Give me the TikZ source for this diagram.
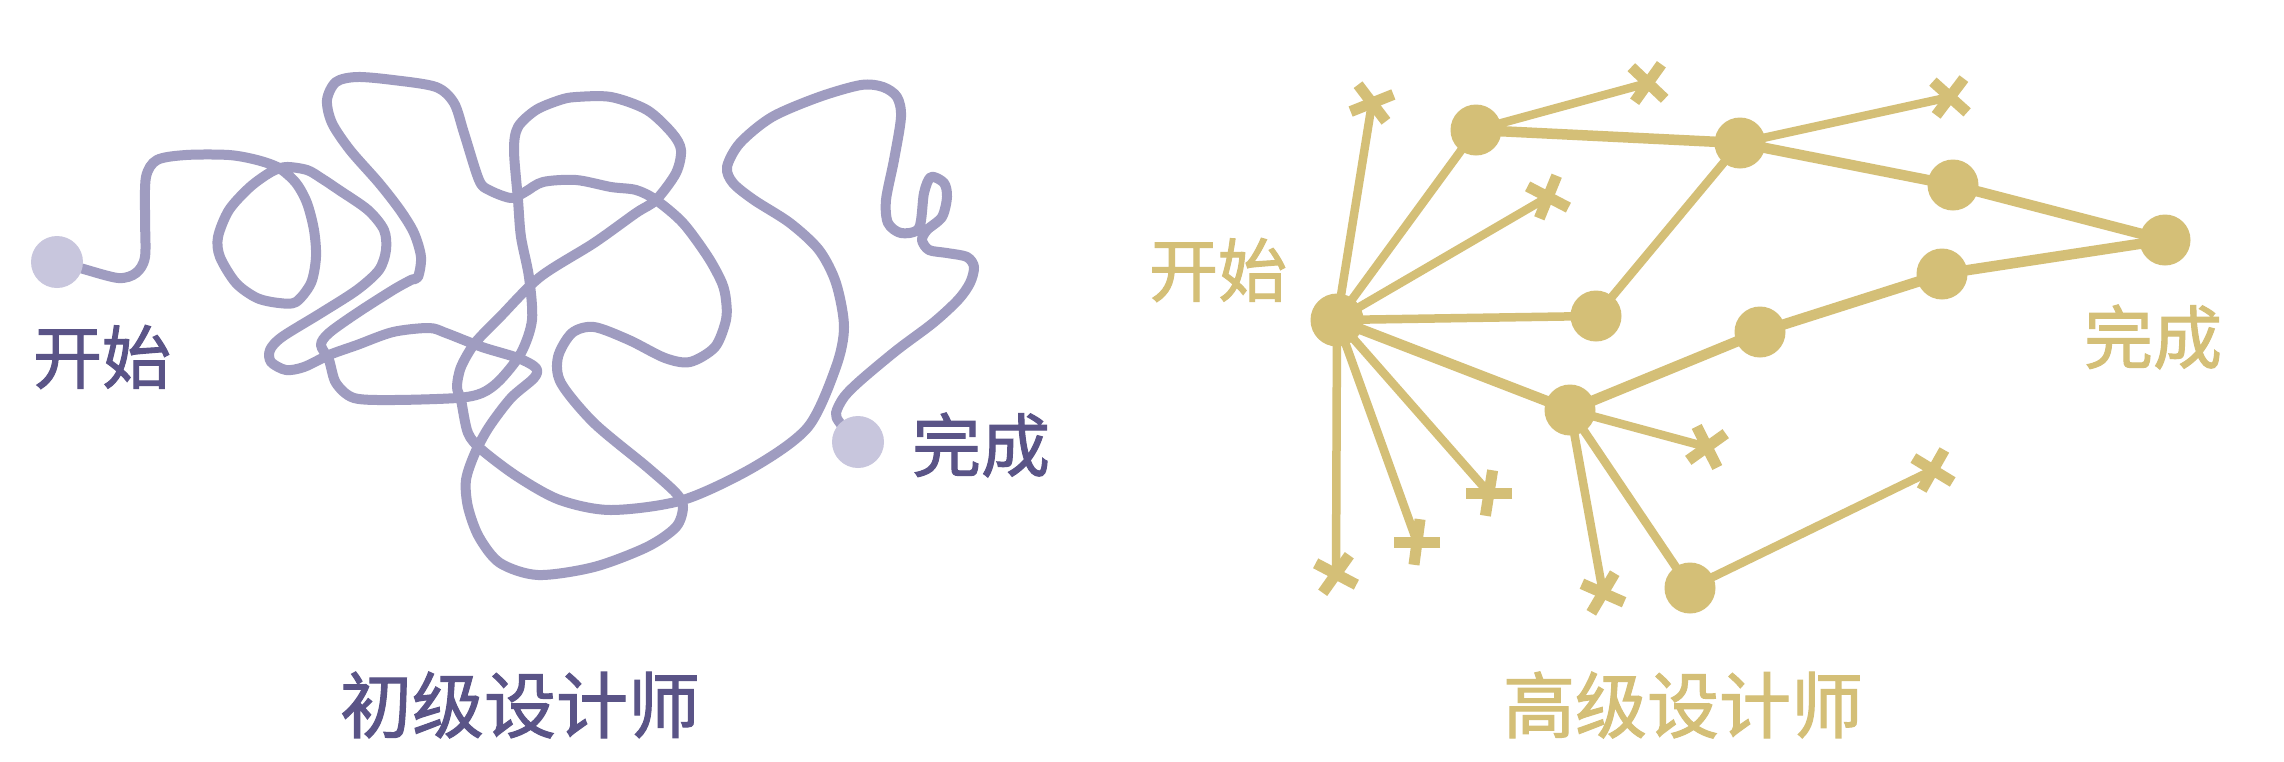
\documentclass[tikz,border=0pt]{standalone}
\usepackage{fontspec}
\newfontfamily\cjk[FakeBold=1.5]{Noto Sans CJK SC}
\definecolor{curvecol}{HTML}{9F9CC0}
\definecolor{dotcol}{HTML}{C8C6DD}
\definecolor{purptext}{HTML}{5A5487}
\definecolor{gold}{HTML}{D4BF77}
\tikzset{
  curve/.style={draw=curvecol, line width=10pt, line cap=round, line join=round},
  enddot/.style={circle, fill=dotcol, minimum size=52pt, inner sep=0pt},
  gnode/.style={circle, fill=gold, minimum size=51pt, inner sep=0pt},
  ray/.style={draw=gold, line width=8.5pt},
  link/.style={draw=gold, line width=10.5pt},
  xstroke/.style={draw=gold, line width=11pt},
  lab/.style={font=\cjk\fontsize{69}{69}\selectfont, inner sep=0pt},
  ttl/.style={font=\cjk\fontsize{72}{72}\selectfont, inner sep=0pt},
}
\newcommand\crossat[3]{%
  \draw[xstroke] ([shift={({-(#2)}:23)}]#1) -- ([shift={({180-(#2)}:23)}]#1);
  \draw[xstroke] ([shift={({-(#3)}:23)}]#1) -- ([shift={({180-(#3)}:23)}]#1);
}
\begin{document}
\begin{tikzpicture}[x=1pt,y=-1pt]
\useasboundingbox (0,0) rectangle (2284,761);
\fill[white] (0,0) rectangle (2284,761);

% ---------- left: junior designer ----------
\coordinate (p0) at (57,262);
\coordinate (p1) at (858,442);
\draw[curve] plot[smooth, tension=0.5] coordinates {
(p0) (80,268) (118,278) (136,273) (145,257) (145,217) (146,177) (157,160) (186,155) (229,155) (257,160) (279,168) (296,183) (307,203) (314,230) (316,257) (311,283) (296,302) (279,303) (257,298) (236,283) (220,257) (218,237) (229,210) (250,187) (271,172) (286,167) (307,170) (321,178) (339,190) (368,210) (384,230) (386,250) (379,270) (357,290) (321,313) (282,337) (270,350) (271,362) (286,370) (304,367) (329,355) (357,345) (393,332) (429,328) (446,333) (482,347) (518,358) (536,368) (534,378) (511,398) (489,427) (475,453) (466,480) (468,507) (479,537) (500,563) (538,575) (594,567) (647,547) (676,527) (683,507) (676,493) (647,467) (594,423) (561,383) (558,357) (572,333) (594,327) (629,340) (665,358) (690,362) (715,347) (726,320) (726,300) (722,283) (708,257) (683,223) (656,200) (636,190) (611,187) (576,180) (543,182) (525,192) (511,198) (489,190) (479,180) (464,133) (454,103) (436,87) (393,80) (357,77) (336,82) (327,100) (332,123) (350,150) (379,183) (400,210) (414,233) (421,257) (418,277) (411,280) (393,290) (357,313) (329,333) (321,345) (329,360) (336,383) (354,398) (393,400) (457,398) (482,393) (500,380) (521,353) (532,320) (529,277) (521,237) (518,200) (514,150) (518,127) (536,110) (560,100) (576,97) (611,97) (647,110) (672,133) (681,150) (676,173) (656,200) (636,213) (594,243) (540,277) (500,317) (475,343) (461,367) (457,387) (461,400) (468,433) (482,450) (518,477) (560,500) (611,510) (683,500) (754,467) (808,427) (836,367) (844,327) (836,283) (819,250) (790,223) (754,200) (733,183) (727,167) (740,143) (772,117) (819,97) (861,85) (883,87) (897,97) (901,117) (894,160) (886,200) (888,223) (901,233) (919,228) (924,193) (931,177) (944,183) (947,197) (942,217) (927,230) (922,240) (929,250) (947,253) (967,257) (974,267) (970,283) (958,300) (933,323) (897,350) (861,380) (844,397) (836,413) (840,423) (p1)
};
\node[enddot] (startL) at (p0) {};
\node[enddot] (endL) at (p1) {};
\node[lab, text=purptext] (startLtxt) at (102,357) {开始};
\node[lab, text=purptext] (endLtxt) at (981,445) {完成};
\node[ttl, text=purptext] (titleL) at (520,705) {初级设计师};

% ---------- right: senior designer ----------
\coordinate (cS) at (1337,320);
\coordinate (cA) at (1476,130);
\coordinate (cB) at (1740,143);
\coordinate (cC) at (1953,185);
\coordinate (cD) at (2165,240);
\coordinate (cE) at (1596,316);
\coordinate (cF) at (1760,332);
\coordinate (cG) at (1942,274);
\coordinate (cH) at (1570,410);
\coordinate (cI) at (1690,588);

\coordinate (x0) at (1372,103);
\coordinate (x1) at (1648,83);
\coordinate (x2) at (1950,97);
\coordinate (x3) at (1548,197);
\coordinate (x4) at (1336,574);
\coordinate (x5) at (1417,542);
\coordinate (x6) at (1489,493);
\coordinate (x7) at (1707,447);
\coordinate (x8) at (1603,593);
\coordinate (x9) at (1933,470);

% rays to dead ends
\draw[ray] (cS) -- (x0);
\draw[ray] (cS) -- (x3);
\draw[ray] (cS) -- (x4);
\draw[ray] (cS) -- (x5);
\draw[ray] (cS) -- (x6);
\draw[ray] (cA) -- (x1);
\draw[ray] (cB) -- (x2);
\draw[ray] (cH) -- (x7);
\draw[ray] (cH) -- (x8);
\draw[ray] (cI) -- (x9);
% links between nodes
\draw[ray] (cS) -- (cA);
\draw[ray] (cS) -- (cE);
\draw[link] (cS) -- (cH);
\draw[link] (cA) -- (cB);
\draw[ray] (cE) -- (cB);
\draw[link] (cB) -- (cC);
\draw[link] (cC) -- (cD);
\draw[link] (cH) -- (cF);
\draw[link] (cF) -- (cG);
\draw[link] (cG) -- (cD);
\draw[ray] (cH) -- (cI);

% crosses
\crossat{x0}{-52.7}{21.8}
\crossat{x1}{-43.5}{54.5}
\crossat{x2}{-42}{53}
\crossat{x3}{-27.5}{67.8}
\crossat{x4}{-27.7}{54.7}
\crossat{x5}{0}{82.4}
\crossat{x6}{0}{81}
\crossat{x7}{35.5}{-63.4}
\crossat{x8}{-23.7}{59.4}
\crossat{x9}{-31.3}{60.5}

% nodes
\node[gnode, minimum size=53pt] (S) at (cS) {};
\node[gnode] (A) at (cA) {};
\node[gnode] (B) at (cB) {};
\node[gnode] (C) at (cC) {};
\node[gnode] (D) at (cD) {};
\node[gnode] (E) at (cE) {};
\node[gnode] (F) at (cF) {};
\node[gnode] (G) at (cG) {};
\node[gnode] (H) at (cH) {};
\node[gnode] (I) at (cI) {};

\node[lab, text=gold] (startRtxt) at (1218,270) {开始};
\node[lab, text=gold] (endRtxt) at (2153,337) {完成};
\node[ttl, text=gold] (titleR) at (1683,705) {高级设计师};
\end{tikzpicture}
\end{document}
